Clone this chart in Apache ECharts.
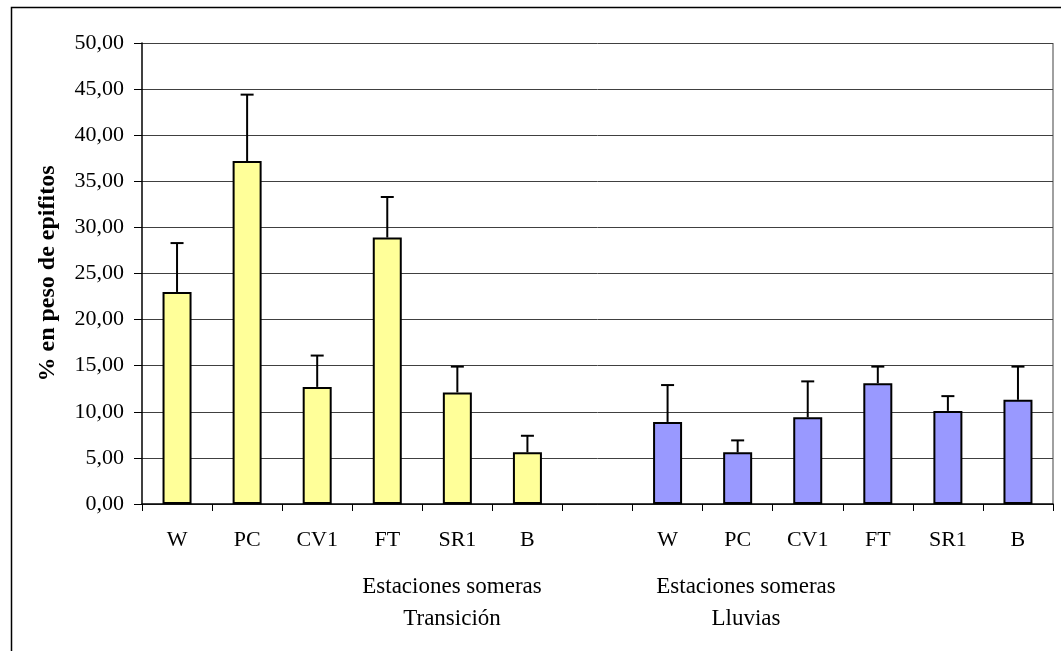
<!DOCTYPE html>
<html>
<head>
<meta charset="utf-8">
<script src="https://cdn.jsdelivr.net/npm/echarts@6/dist/echarts.min.js"></script>
<style>
  html, body { margin: 0; padding: 0; background: #fff; }
  #chart { width: 1061px; height: 651px; }
</style>
</head>
<body>
<div id="chart"></div>
<script>
// estaciones (con hueco entre grupos)
var categories = ['W', 'PC', 'CV1', 'FT', 'SR1', 'B', '', 'W', 'PC', 'CV1', 'FT', 'SR1', 'B']
// media y desviacion por estacion
var transicion = [23.0, 37.2, 12.7, 28.9, 12.1, 5.6]
var transicionErr = [5.3, 7.2, 3.4, 4.4, 2.8, 1.8]
var lluvias = [8.9, 5.6, 9.4, 13.1, 10.1, 11.3]
var lluviasErr = [4.0, 1.3, 3.9, 1.8, 1.6, 3.6]
var yTicks = { min: 0, max: 50, interval: 5 }
var groupLabels = ['Estaciones someras\nTransición', 'Estaciones someras\nLluvias']

var font = 'Liberation Serif, Times New Roman, serif'

// armar datos de barras y errores
var barData = []
var errData = []
transicion.forEach(function (v, i) {
    barData.push({ value: v, itemStyle: { color: '#ffff99' } })
    errData.push([i, v, v + transicionErr[i]])
})
barData.push('-')
lluvias.forEach(function (v, i) {
    barData.push({ value: v, itemStyle: { color: '#9999ff' } })
    errData.push([i + 7, v, v + lluviasErr[i]])
})

var chart = echarts.init(document.getElementById('chart'))
chart.setOption({
    animation: false,
    grid: { left: 142, right: 8, top: 43, bottom: 147 },
    xAxis: {
        type: 'category',
        data: categories,
        axisLine: { lineStyle: { color: '#000', width: 1.5 } },
        axisTick: { show: true, length: 7, lineStyle: { color: '#000' } },
        axisLabel: { interval: 0, color: '#000', fontFamily: font, fontSize: 22, margin: 25 }
    },
    yAxis: {
        type: 'value',
        min: yTicks.min,
        max: yTicks.max,
        interval: yTicks.interval,
        name: '% en peso de epifitos',
        nameLocation: 'middle',
        nameRotate: 90,
        nameGap: 82,
        nameTextStyle: { color: '#000', fontFamily: font, fontSize: 24, fontWeight: 'bold' },
        axisLine: { show: true, lineStyle: { color: '#000', width: 1.5 } },
        axisTick: { show: true, length: 8, lineStyle: { color: '#000' } },
        axisLabel: {
            color: '#000', fontFamily: font, fontSize: 22, margin: 18,
            formatter: function (v) { return v.toFixed(2).replace('.', ',') }
        },
        splitLine: { lineStyle: { color: '#404040', width: 1 } }
    },
    series: [
        {
            type: 'bar',
            data: barData,
            barWidth: 29,
            itemStyle: { borderColor: '#000', borderWidth: 2 }
        },
        {
            type: 'custom',
            data: errData,
            z: 1,
            renderItem: function (params, api) {
                var base = api.coord([api.value(0), api.value(1)])
                var top = api.coord([api.value(0), api.value(2)])
                var half = 6.5
                return {
                    type: 'group',
                    children: [
                        { type: 'line', shape: { x1: base[0], y1: base[1], x2: top[0], y2: top[1] },
                          style: { stroke: '#000', lineWidth: 2 } },
                        { type: 'line', shape: { x1: top[0] - half, y1: top[1], x2: top[0] + half, y2: top[1] },
                          style: { stroke: '#000', lineWidth: 2 } }
                    ]
                }
            }
        }
    ],
    graphic: [
        // borde exterior
        { type: 'rect', left: 9, top: 5, shape: { width: 1100, height: 700 },
          style: { fill: 'none', stroke: '#000', lineWidth: 1.5 } },
        // borde derecho del area de trazado
        { type: 'line', shape: { x1: 1053, y1: 43, x2: 1053, y2: 504 },
          style: { stroke: '#808080', lineWidth: 1.5 } },
        { type: 'text', x: 452, y: 571,
          style: { text: groupLabels[0], fill: '#000', font: '23px ' + font, textAlign: 'center', lineHeight: 32 } },
        { type: 'text', x: 746, y: 571,
          style: { text: groupLabels[1], fill: '#000', font: '23px ' + font, textAlign: 'center', lineHeight: 32 } }
    ]
})
</script>
</body>
</html>
